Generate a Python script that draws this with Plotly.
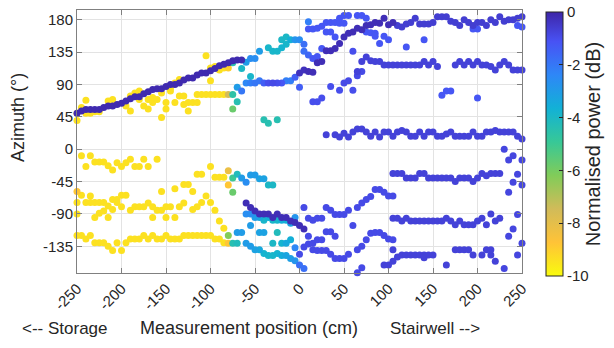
import numpy as np
import plotly.graph_objects as go

# ---------------- data: position (cm), azimuth (deg), normalised power (dB) ----------------
# strong path on storage side (rising)
pathA_x = [-250,-245,-240,-235,-230,-225,-220,-215,-210,-205,-200,-195,-190,-185,-180,-175,-170,-165,-160,
           -155,-150,-145,-140,-135,-130,-125,-120,-115,-110,-105,-100,-95,-90,-85,-80,-75,-70,-65]
pathA_az = [50,53,55,55,55,55,58,60,60,62,64,67,70,73,73,77,80,83,84,84,87,90,90,92,96,99,99,103,106,106,
            109,112,116,118,120,123,124,124]
pathA_db = -0.1

# weak (yellow) components, upper band
yelU_x = [-250,-250,-245,-240,-240,-235,-230,-225,-215,-210,-195,-190,-190,-185,-180,-180,-175,-170,-170,
          -165,-165,-160,-155,-155,-150,-150,-145,-145,-140,-140,-135,-135,-130,-130,-125,-125,-120,-115,
          -115,-110,-105,-105,-100,-100,-100,-95,-95,-90,-90,-85,-85,-80,-80,-75]
yelU_az = [40,50,58,68,50,50,52,52,67,69,60,53,74,78,81,69,60,56,69,65,72,69,78,44,65,56,81,85,65,92,74,
           97,74,62,65,53,65,76,65,76,76,130,95,76,113,115,76,76,110,76,113,113,76,76]
yelU_db = [-9.4]*51 + [-9.0,-7.6,-4.6]

# weak components, top row of lower half
yelT_x = [-245,-240,-235,-230,-225,-220,-215,-210,-205,-200,-195,-190,-185,-180,-175,-170,-160,
          -115,-110,-100,-95,-90,-85,-80,-80,-75,-75,-70]
yelT_az = [-9,-24,-9,-18,-18,-18,-23,-29,-19,-24,-19,-14,-24,-24,-14,-24,-14,
           -35,-35,-24,-39,-39,-39,-30,-50,-40,-60,-35]
yelT_db = [-9.4]*23 + [-8.2,-8.8,-5.0,-5.8,-4.2]

# weak components, middle band
yelM_x = [-250,-250,-250,-245,-240,-235,-235,-230,-230,-225,-225,-220,-220,-215,-215,-210,-210,-205,-205,
          -200,-200,-195,-190,-185,-180,-175,-170,-165,-165,-160,-155,-155,-150,-150,-145,-140,-140,-135,
          -130,-130,-125,-120,-120,-115,-110,-105,-100,-95,-90,-85]
yelM_az = [-59,-74,-90,-64,-74,-65,-74,-74,-95,-74,-89,-74,-86,-95,-79,-70,-84,-70,-74,-64,-80,-64,-85,-80,
           -80,-80,-75,-80,-95,-85,-85,-59,-80,-95,-80,-55,-95,-80,-75,-49,-49,-59,-84,-80,-74,-65,-74,-85,
           -100,-110]
yelM_db = [-8.8] + [-9.4]*49

# weak components, lower band
yelL_x = [-250,-245,-240,-235,-230,-225,-220,-215,-210,-205,-200,-195,-190,-185,-180,-175,-170,-165,-160,
          -155,-150,-145,-140,-135,-130,-125,-120,-115,-110,-105,-100,-95,-90,-85,-80,-80,-75,-70]
yelL_az = [-120,-120,-125,-120,-130,-130,-130,-135,-141,-130,-141,-130,-125,-125,-125,-120,-125,-120,-125,
           -125,-120,-125,-125,-125,-120,-120,-120,-120,-120,-120,-120,-125,-125,-130,-120,-131,-131,-131]
yelL_db = [-9.4]*34 + [-6.2,-8.8,-4.4,-4.2]

# centre region, upper cyan cluster
cenU_x = [-75,-65,-60,-55,-50,-45,-35,-30,-25,-20,-20,-15,-10,-15,-5,0,5,5,10]
cenU_az = [120,112,121,126,126,136,141,136,136,141,152,156,152,146,152,152,146,136,131]
cenU_db = [-4.5,-4.0,-3.0,-2.6,-2.6,-3.0,-3.9,-3.9,-3.9,-3.8,-4.0,-4.0,-3.6,-3.9,-2.8,-2.6,-1.8,-1.8,-1.6]

# centre region, line near 90 deg
cen90_x = [-70,-65,-60,-55,-50,-45,-40,-35,-30,-25,-20,-15,-10,-5,0,5,10,15,20,25]
cen90_az = [86,81,92,92,92,95,92,92,92,92,92,95,95,100,106,110,108,107,120,122]
cen90_db = [-3.0,-2.0,-2.4,-2.2,-2.0,-2.0,-1.4,-1.0,-0.9,-1.0,-1.2,-2.2,-2.2,-1.4,-0.3,-0.3,-0.2,-0.2,-0.2,-0.2]

# centre region, isolated components
cenI_x = [-55,-70,-75,-40,-35,-25,0,15,20,25,35,45,50,55,65,70,60,60]
cenI_az = [101,66,56,41,36,41,86,66,66,71,87,82,92,95,102,108,82,136]
cenI_db = [-3.9,-4.4,-5.8,-4.4,-4.4,-4.4,-1.4,-1.0,-1.0,-1.0,-1.0,-1.0,-0.9,-0.9,-0.9,-0.9,-1.0,-1.0]

# stairwell-side rising path
pathB_x = [30,35,40,45,50,55,60,65,70,75,80,85,90,95,100,105]
pathB_az = [137,137,140,147,156,161,163,168,166,172,173,176,175,182,173,176]
pathB_db = -0.2

# upper scattered components (stairwell side)
upS_x = [10,10,15,20,25,30,35,40,45,50,55,45,50,65,70,75,15,20,25,30,35,40,75,80,85,85,90,95,100,120,140,
         160,165,170,200,195,200,245,250]
upS_az = [177,167,167,168,171,176,176,176,182,186,186,175,175,186,186,182,126,129,140,163,163,156,163,162,
          161,157,147,157,152,142,152,75,81,81,71,167,167,172,170]
upS_db = [-2.2] + [-1.2]*38

# top row
top_x = [110,115,120,125,130,135,140,145,150,155,160,165,170,175,180,185,190,195,200,205,210,215,220,225,
         230,235,240,245,250]
top_az = [172,170,174,176,182,174,174,174,176,184,184,184,178,176,172,180,176,172,176,176,172,180,176,184,
          178,180,180,182,184]
top_db = -0.6

# row near 120 deg
r120_x = [65,70,75,80,85,90,95,100,105,110,115,120,125,130,135,140,145,150,155,175,180,185,190,195,200,205,
          210,215,220,225,230,235,240,245,250]
r120_az = [108,122,128,123,122,122,117,117,117,117,117,117,117,117,117,122,117,122,115,117,122,117,122,117,
           122,117,117,115,110,117,122,117,110,110,110]
r120_db = -0.7

# row near 20 deg
r20_x = [30,40,45,50,55,60,65,70,75,80,85,90,95,100,105,110,115,120,125,130,135,140,145,150,155,160,165,170,
         175,180,185,190,195,200,205,210,215,220,225,230,235,240,245,250]
r20_az = [20,20,17,22,17,24,28,28,24,18,24,17,24,24,18,24,26,24,18,18,24,18,24,24,18,18,21,24,18,18,18,18,
          24,18,18,24,24,26,24,24,24,24,18,14]
r20_db = -0.7

# row near -37 deg
rm37_x = [105,110,115,120,125,130,135,140,145,150,155,160,165,170,175,180,185,190,195,200,205,210,215,220,225]
rm37_az = [-34,-34,-34,-40,-40,-40,-34,-34,-40,-40,-40,-40,-40,-40,-45,-40,-40,-40,-45,-40,-34,-37,-34,-34,-34]
rm37_db = -0.7

# row near -98 deg
rm98_x = [105,110,115,120,125,130,135,140,145,150,155,160,165,170,175,180,185,190,195,200,205,210,215,220,225]
rm98_az = [-96,-96,-100,-96,-100,-100,-100,-100,-100,-100,-100,-100,-96,-100,-105,-100,-105,-105,-105,-100,
           -96,-105,-90,-100,-96]
rm98_db = -0.7

# row near -145 deg
rm145_x = [95,100,105,105,110,115,120,125,130,135,140,140,145,150,165,175,180,185,190,195,205,210,215,215,220]
rm145_az = [-161,-161,-156,-140,-150,-147,-147,-147,-147,-147,-147,-151,-147,-147,-161,-140,-140,-140,-140,
            -147,-147,-140,-147,-140,-156]
rm145_db = -0.7

# stairwell side lower scattered paths (x 0..105)
loS_x = [60,65,70,75,80,85,90,95,100,105,65,70,75,80,85,90,95,100,105,65,70,
         5,10,15,20,25,30,35,40,45,50,55,10,15,20,25,30,35,40,
         0,5,10,15,20,25,30,35,40,45,50,55]
loS_az = [-106,-81,-75,-70,-66,-56,-56,-60,-65,-65,-140,-135,-126,-117,-116,-116,-120,-125,-126,-172,-165,
          -81,-96,-99,-96,-96,-81,-85,-91,-91,-91,-85,-121,-131,-126,-126,-115,-115,-121,
          -146,-136,-132,-140,-141,-141,-141,-146,-152,-152,-152,-146]
loS_db = -0.9

# right-edge isolated components
edge_x = [230,235,240,250,245,240,235,250,245,240,235,250,245,230]
edge_az = [0,-15,-9,-15,-35,-46,-60,-50,-91,-111,-121,-131,-147,-166]
edge_db = -0.8

# centre, lower region
cenL1_x = [-65,-60,-55,-50,-45,-40,-35,-30]
cenL1_az = [-40,-46,-36,-36,-41,-41,-50,-50]
cenL1_db = [-3.0,-2.6,-3.0,-3.0,-3.2,-3.2,-4.0,-4.0]

pathC_x = [-60,-55,-50,-45,-40,-35,-30,-25,-20,-15,-10,-5,0,5]
pathC_az = [-75,-81,-86,-90,-90,-90,-95,-90,-95,-95,-100,-102,-106,-111]
pathC_db = -0.2

cenL2_x = [-60,-55,-50,-45,-40,-35,-30,-25,-20,-15,-10,-5]
cenL2_az = [-90,-90,-95,-95,-99,-95,-99,-99,-99,-99,-103,-95]
cenL2_db = [-2.6,-2.6,-3.0,-3.4,-3.9,-3.6,-3.9,-3.9,-3.6,-3.6,-3.2,-2.8]

cenL3_x = [-70,-65,-55,-45,-40,-30,-25,-20,-15,-10,-5]
cenL3_az = [-116,-116,-106,-116,-116,-131,-116,-131,-131,-126,-137]
cenL3_db = [-3.0,-3.0,-3.0,-3.2,-3.2,-4.0,-4.2,-3.8,-3.4,-3.6,-2.4]

cenL4_x = [-60,-55,-50,-45,-40,-35,-30,-25,-20,-15,-10,-5,0,5]
cenL4_az = [-131,-135,-140,-140,-145,-148,-148,-145,-148,-148,-152,-155,-161,-166]
cenL4_db = [-3.0,-3.0,-3.2,-3.4,-3.8,-3.9,-3.9,-3.8,-3.5,-3.3,-3.1,-2.8,-1.8,-1.8]

groups = [
    (pathA_x, pathA_az, pathA_db), (yelU_x, yelU_az, yelU_db), (yelT_x, yelT_az, yelT_db),
    (yelM_x, yelM_az, yelM_db), (yelL_x, yelL_az, yelL_db), (cenU_x, cenU_az, cenU_db),
    (cen90_x, cen90_az, cen90_db), (cenI_x, cenI_az, cenI_db), (pathB_x, pathB_az, pathB_db),
    (upS_x, upS_az, upS_db), (top_x, top_az, top_db), (r120_x, r120_az, r120_db),
    (r20_x, r20_az, r20_db), (rm37_x, rm37_az, rm37_db), (rm98_x, rm98_az, rm98_db),
    (rm145_x, rm145_az, rm145_db), (loS_x, loS_az, loS_db), (edge_x, edge_az, edge_db),
    (cenL1_x, cenL1_az, cenL1_db), (pathC_x, pathC_az, pathC_db), (cenL2_x, cenL2_az, cenL2_db),
    (cenL3_x, cenL3_az, cenL3_db), (cenL4_x, cenL4_az, cenL4_db),
]

xs, ys, ps = [], [], []
for gx, gy, gp in groups:
    n = min(len(gx), len(gy))
    if not isinstance(gp, list):
        gp = [gp] * n
    gp = (gp + [gp[-1]] * n)[:n]
    xs += list(gx[:n]); ys += list(gy[:n]); ps += gp

xs = np.array(xs, float); ys = np.array(ys, float); ps = np.array(ps, float)
order = np.argsort(ps, kind="stable")
xs, ys, ps = xs[order], ys[order], ps[order]

x_ticks = [-250, -200, -150, -100, -50, 0, 50, 100, 150, 200, 250]
y_ticks = [-135, -90, -45, 0, 45, 90, 135, 180]
c_ticks = [-10, -8, -6, -4, -2, 0]

parula_r = [
    [0.000, "rgb(249,251,14)"], [0.127, "rgb(255,195,55)"], [0.254, "rgb(209,187,89)"],
    [0.381, "rgb(129,204,89)"], [0.508, "rgb(55,200,151)"], [0.635, "rgb(18,177,214)"],
    [0.762, "rgb(46,135,247)"], [0.889, "rgb(72,82,244)"], [1.000, "rgb(62,38,168)"],
]

FONT = "Liberation Sans, Arial, sans-serif"
TXT = "#262626"
W, H = 614, 348
PL, PR, PT, PB = 77, 522, 10, 273   # plot-area pixel box


def px(x):
    return x / W


def py(y):
    return (H - y) / H


fig = go.Figure(go.Scatter(
    x=xs, y=ys, mode="markers", cliponaxis=False,
    marker=dict(size=7, color=ps, colorscale=parula_r, cmin=-10, cmax=0, line=dict(width=0),
                colorbar=dict(
                    x=px(546), xanchor="left", xpad=0, y=py(144), yanchor="middle", ypad=0,
                    len=264 / H, lenmode="fraction",
                    thickness=17, outlinecolor=TXT, outlinewidth=1,
                    tickvals=c_ticks, ticktext=[str(v) for v in c_ticks], ticks="inside", ticklen=4,
                    tickcolor=TXT, tickfont=dict(family=FONT, size=15, color=TXT),
                    title=dict(text="Normalised power (dB)", side="right",
                               font=dict(family=FONT, size=20, color=TXT)),
                )),
    showlegend=False, hoverinfo="skip",
))

axis_common = dict(showline=True, linecolor="#808080", linewidth=1, mirror="ticks", ticks="inside",
                   ticklen=5, tickcolor="#808080", showgrid=True, gridcolor="#e3e3e3", gridwidth=1,
                   zeroline=False, automargin=False, tickfont=dict(family=FONT, size=15, color=TXT))

fig.update_layout(
    width=W, height=H, margin=dict(l=0, r=0, t=0, b=0, autoexpand=False),
    paper_bgcolor="white", plot_bgcolor="white",
    xaxis=dict(domain=[px(PL), px(PR)], range=[-250, 250], tickvals=x_ticks,
               ticktext=[str(v) for v in x_ticks], tickangle=-45, **axis_common),
    yaxis=dict(domain=[py(PB), py(PT)], range=[-172.2, 193.5], tickvals=y_ticks,
               ticktext=[str(v) for v in y_ticks], **axis_common),
    font=dict(family=FONT, color=TXT),
    annotations=[
        dict(text="Azimuth (°)", textangle=-90, xref="paper", yref="paper", x=px(18), y=py(118),
             showarrow=False, font=dict(family=FONT, size=18, color=TXT),
             xanchor="center", yanchor="middle"),
        dict(text="<-- Storage", xref="paper", yref="paper", x=px(65), y=py(328),
             showarrow=False, font=dict(family=FONT, size=17, color=TXT), xanchor="center", yanchor="middle"),
        dict(text="Measurement position (cm)", xref="paper", yref="paper", x=px(249), y=py(328),
             showarrow=False, font=dict(family=FONT, size=18, color=TXT), xanchor="center", yanchor="middle"),
        dict(text="Stairwell -->", xref="paper", yref="paper", x=px(435), y=py(328),
             showarrow=False, font=dict(family=FONT, size=17, color=TXT), xanchor="center", yanchor="middle"),
    ],
)

fig.write_html("out.html")
